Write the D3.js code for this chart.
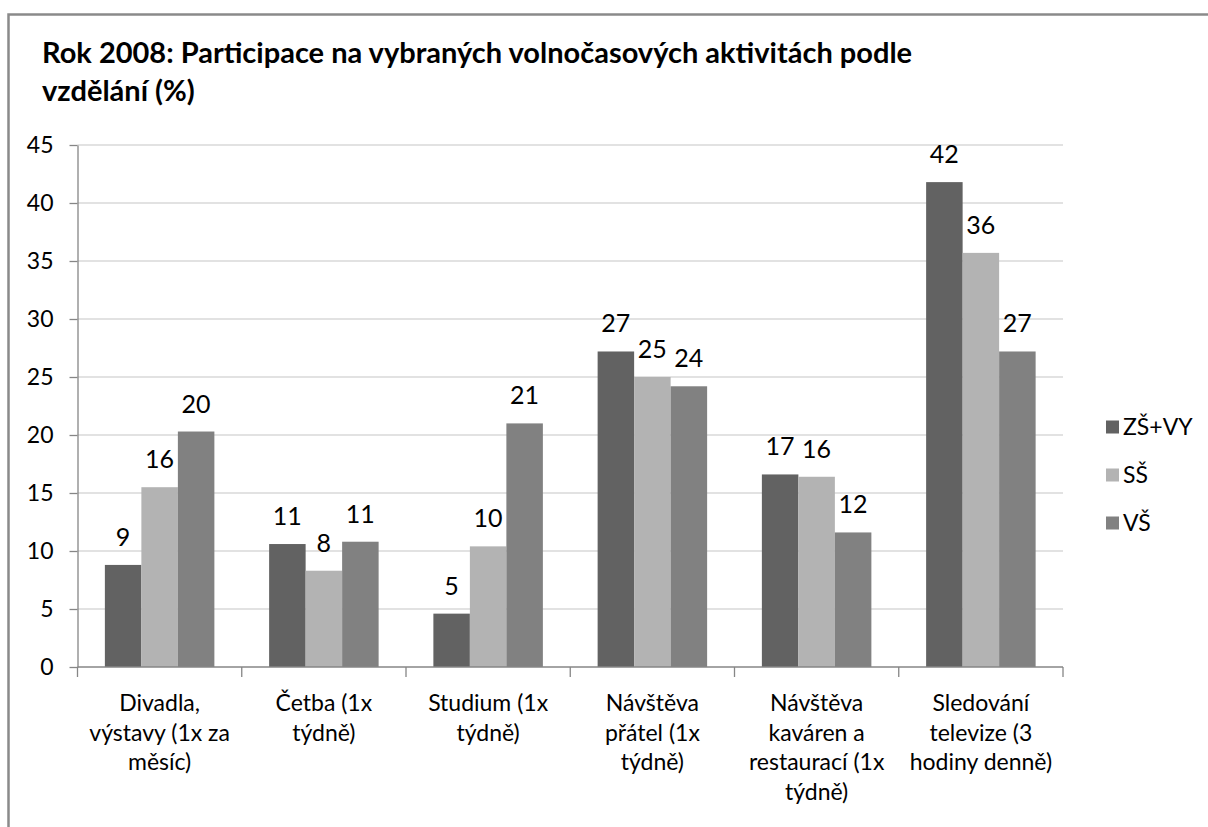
<!DOCTYPE html>
<html>
<head>
<meta charset="utf-8">
<title>Participace na volnočasových aktivitách</title>
<script src="https://d3js.org/d3.v7.min.js"></script>
<style>
  body { margin: 0; background: #fff; }
  svg text { font-family: Lato, "Open Sans", sans-serif; fill: #000; }
  .grid line { stroke: #d9d9d9; stroke-width: 1.3; }
  .axis path, .axis line { stroke: #868686; stroke-width: 1.3; fill: none; }
</style>
</head>
<body>
<svg id="chart"></svg>
<script>
var categories = ["Divadla", "Četba", "Studium", "Přátelé", "Kavárny", "Televize"];
var categoryLines = [
  ["Divadla,", "výstavy (1x za", "měsíc)"],
  ["Četba (1x", "týdně)"],
  ["Studium (1x", "týdně)"],
  ["Návštěva", "přátel (1x", "týdně)"],
  ["Návštěva", "kaváren a", "restaurací (1x", "týdně)"],
  ["Sledování", "televize (3", "hodiny denně)"]
];
var seriesNames = ["ZŠ+VY", "SŠ", "VŠ"];
var zsVy = [8.8, 10.6, 4.6, 27.2, 16.6, 41.8];
var ss = [15.5, 8.3, 10.4, 25.0, 16.4, 35.7];
var vs = [20.3, 10.8, 21.0, 24.2, 11.6, 27.2];
var yTicks = [0, 5, 10, 15, 20, 25, 30, 35, 40, 45];
var colors = ["#626262", "#b3b3b3", "#818181"];

var seriesValues = [zsVy, ss, vs];

var W = 1208, H = 827;
var plotL = 77.5, plotR = 1063, plotT = 145, plotB = 667;

var svg = d3.select("#chart").attr("width", W).attr("height", H);

// outer frame
svg.append("rect")
  .attr("x", 8.5).attr("y", 14.5)
  .attr("width", W + 20).attr("height", H + 20)
  .attr("fill", "#fff").attr("stroke", "#8a8a8a").attr("stroke-width", 2.5);

// title
var title = svg.append("text")
  .style("font-weight", "bold").style("font-size", "29px");
title.append("tspan").attr("x", 42).attr("y", 63)
  .text("Rok 2008: Participace na vybraných volnočasových aktivitách podle");
title.append("tspan").attr("x", 42).attr("y", 101).text("vzdělání (%)");

var x = d3.scaleBand().domain(categories).range([plotL, plotR]).paddingInner(0).paddingOuter(0);
var xs = d3.scaleBand().domain(d3.range(seriesNames.length))
  .range([0, x.bandwidth()]).paddingInner(0).paddingOuter(0.75);
var y = d3.scaleLinear().domain([0, 45]).range([plotB, plotT]);

// gridlines
svg.append("g").attr("class", "grid")
  .selectAll("line").data(yTicks.filter(function(d) { return d > 0; }))
  .enter().append("line")
  .attr("x1", plotL).attr("x2", plotR)
  .attr("y1", function(d) { return y(d); })
  .attr("y2", function(d) { return y(d); });

// y axis
var yAxis = svg.append("g").attr("class", "axis")
  .attr("transform", "translate(" + plotL + ",0)")
  .call(d3.axisLeft(y).tickValues(yTicks).tickSize(8).tickSizeOuter(0).tickPadding(16));
yAxis.selectAll("text").style("font-size", "23px").style("fill", "#000")
  .style("font-family", "Lato, sans-serif");

// bars
var groups = svg.append("g").selectAll("g").data(categories).enter().append("g")
  .attr("transform", function(d) { return "translate(" + x(d) + ",0)"; });

function rowOf(d, i) {
  return seriesValues.map(function(s, j) { return { s: j, v: s[i] }; });
}

groups.selectAll("rect")
  .data(rowOf)
  .enter().append("rect")
  .attr("x", function(d) { return xs(d.s); })
  .attr("width", xs.bandwidth())
  .attr("y", function(d) { return y(d.v); })
  .attr("height", function(d) { return y(0) - y(d.v); })
  .attr("fill", function(d) { return colors[d.s]; });

groups.selectAll("text.val")
  .data(rowOf)
  .enter().append("text").attr("class", "val")
  .attr("x", function(d) { return xs(d.s) + xs.bandwidth() / 2; })
  .attr("y", function(d) { return y(d.v) - 19; })
  .attr("text-anchor", "middle")
  .style("font-size", "25px")
  .text(function(d) { return Math.round(d.v); });

// x axis
var xAxis = svg.append("g").attr("class", "axis")
  .attr("transform", "translate(0," + plotB + ")");
xAxis.append("line").attr("x1", plotL).attr("x2", plotR).attr("y1", 0).attr("y2", 0);
xAxis.selectAll("line.tk")
  .data(categories.map(function(d) { return x(d); }).concat([plotR]))
  .enter().append("line").attr("class", "tk")
  .attr("x1", function(d) { return d; }).attr("x2", function(d) { return d; })
  .attr("y1", 0).attr("y2", 10);

categories.forEach(function(c, i) {
  var t = xAxis.append("text")
    .attr("text-anchor", "middle")
    .style("font-size", "23px");
  categoryLines[i].forEach(function(line, k) {
    t.append("tspan")
      .attr("x", x(c) + x.bandwidth() / 2)
      .attr("y", 44 + k * 29.5)
      .text(line);
  });
});

// legend
var legend = svg.append("g").selectAll("g").data(seriesNames).enter().append("g")
  .attr("transform", function(d, i) { return "translate(1106," + (427 + i * 48) + ")"; });
legend.append("rect")
  .attr("x", 0).attr("y", -6.5).attr("width", 13).attr("height", 13)
  .attr("fill", function(d, i) { return colors[i]; });
legend.append("text")
  .attr("x", 17).attr("y", 8)
  .style("font-size", "23px")
  .text(function(d) { return d; });
</script>
</body>
</html>
